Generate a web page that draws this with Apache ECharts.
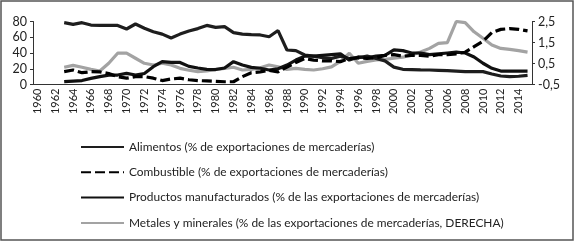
<!DOCTYPE html>
<html>
<head>
<meta charset="utf-8">
<script src="https://cdn.jsdelivr.net/npm/echarts@6/dist/echarts.min.js"></script>
<style>
html,body{margin:0;padding:0;background:#fff;}
#c{width:581px;height:243px;}
</style>
</head>
<body>
<div id="c"></div>
<script>
const years = [];
for (let y = 1960; y <= 2015; y++) years.push(String(y));

const seriesNames = [
  'Alimentos (% de exportaciones de mercaderías)',
  'Combustible (% de exportaciones de mercaderías)',
  'Productos manufacturados (% de las exportaciones de mercaderías)',
  'Metales y minerales (% de las exportaciones de mercaderías, DERECHA)'
];

// 1960 ... 2015
const alimentos = [null,null,null,
  78.5,76.4,78.5,75.5,75,75,75,70.5,76.8,71.4,67,64,59,64,68,71,75,72.6,73.4,65.8,64,63.3,62.9,60.7,68.5,
  43.8,43,37.5,36,34,33,36,33,34,36,33,30,22,19.3,19,18.5,18.4,18,17.5,17,16.3,16.5,16.3,13.3,10.8,10,10.5,11.5];

const combustible = [null,null,null,
  16.3,18.4,15,16.3,16,14,10,8,10,10,8,5,7,8,6,5,4.5,4,3.5,3.5,10,15,16,18,16,
  22,28,33,31,30,30,29,33,34,33,34,37,38,36,37,37,36,38,38,39,41,48,55,66,70,71,70,68];

const manufacturados = [null,null,null,
  3.6,4.4,5,7.8,10,12,12,14.2,12,14,22.6,29,28,28,23,21,19.3,19,21,29,24.7,21.8,20.6,18.4,20,
  24.7,31,36,36,37,38,39,31,35,34,36,37,44,43,40,40,38,39,40,41,40,35,27,20.6,17.1,17,17,17];

const metales = [null,null,null,
  0.32,0.41,0.32,0.22,0.14,0.51,0.99,0.99,0.75,0.51,0.43,0.51,0.43,0.27,0.18,0.11,0.15,0.22,0.27,0.32,0.19,0.22,0.3,0.43,0.34,
  0.22,0.27,0.22,0.19,0.25,0.34,0.6,0.99,0.51,0.6,0.67,0.7,0.75,0.8,0.91,1.05,1.22,1.46,1.49,2.5,2.45,2.01,1.7,1.38,1.22,1.17,1.11,1.04];

const leftTicks = [0,20,40,60,80];
const rightTicks = [-0.5,0.5,1.5,2.5];

const FONT = 'Lato';
const chart = echarts.init(document.getElementById('c'), null, {renderer:'canvas'});
const lw = 3.2;
chart.setOption({
  animation:false,
  backgroundColor:'#fff',
  graphic:[{type:'rect', shape:{x:1,y:1,width:572,height:239}, style:{fill:'none', stroke:'#555', lineWidth:1.5}, silent:true}],
  grid:{left:33, right:49, top:21.5, bottom:158.5, containLabel:false},
  legend:{
    orient:'vertical', left:75, top:135, itemWidth:43, itemHeight:14, itemGap:11.3,
    itemStyle:{opacity:0},
    textStyle:{fontFamily:FONT, fontSize:11.9, lineHeight:14, color:'#222'},
    data:seriesNames
  },
  xAxis:{
    type:'category', data:years, boundaryGap:true,
    axisLine:{lineStyle:{color:'#333', width:1}},
    axisTick:{interval:0, length:3, lineStyle:{color:'#333'}},
    axisLabel:{interval:1, rotate:90, margin:4, fontFamily:FONT, fontSize:11, color:'#222'}
  },
  yAxis:[
    {type:'value', min:0, max:80, interval:20,
     axisLine:{show:true, lineStyle:{color:'#333'}}, axisTick:{show:true, length:3, lineStyle:{color:'#333'}},
     splitLine:{show:false},
     axisLabel:{margin:6, fontFamily:FONT, fontSize:12.5, color:'#222', customValues:leftTicks},
    },
    {type:'value', min:-0.5, max:2.5, position:'right',
     axisLine:{show:true, lineStyle:{color:'#333'}},
     axisTick:{show:true, length:3, lineStyle:{color:'#333'}, customValues:rightTicks},
     splitLine:{show:false},
     axisLabel:{margin:6, fontFamily:FONT, fontSize:12.5, color:'#222', customValues:rightTicks,
       formatter:v=>String(v).replace('.',',')}
    }
  ],
  series:[
    {name:seriesNames[0], type:'line', data:alimentos, symbol:'none', connectNulls:false,
     lineStyle:{color:'#1e1e1e', width:lw}, itemStyle:{color:'#1e1e1e'}, z:3},
    {name:seriesNames[1], type:'line', data:combustible, symbol:'none',
     lineStyle:{color:'#000', width:lw, type:[10,4]}, itemStyle:{color:'#000'}, z:4},
    {name:seriesNames[2], type:'line', data:manufacturados, symbol:'none',
     lineStyle:{color:'#111', width:lw}, itemStyle:{color:'#111'}, z:3},
    {name:seriesNames[3], type:'line', data:metales, yAxisIndex:1, symbol:'none',
     lineStyle:{color:'#a3a3a3', width:lw}, itemStyle:{color:'#a3a3a3'}, z:2}
  ]
});
</script>
</body>
</html>
